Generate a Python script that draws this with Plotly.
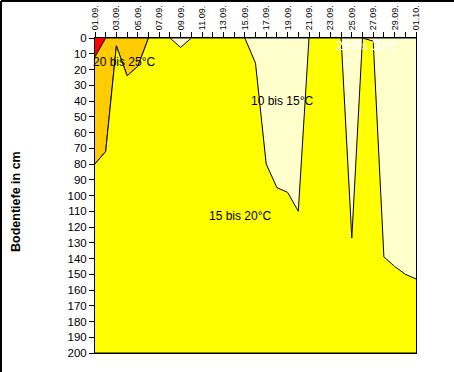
import plotly.graph_objects as go

# Date labels (every day, 01.09. .. 01.10.)
dates = [f"{d:02d}.09." for d in range(1, 31)] + ["01.10."]

# Thickness (cm) of each temperature band, from the surface downwards
band_25_30 = [12, 0, 0, 0, 0, 0, 0, 0, 0, 0, 0, 0, 0, 0, 0, 0,
              0, 0, 0, 0, 0, 0, 0, 0, 0, 0, 0, 0, 0, 0, 0]
band_20_25 = [68, 72, 5, 24, 18, 0, 0, 0, 0, 0, 0, 0, 0, 0, 0, 0,
              0, 0, 0, 0, 0, 0, 0, 0, 0, 0, 0, 0, 0, 0, 0]
band_10_15 = [0, 0, 0, 0, 0, 0, 0, 0, 6, 0, 0, 0, 0, 0, 0, 16,
              80, 95, 98, 110, 0, 0, 0, 0, 127, 0, 2, 139, 145, 150, 153]
max_depth = 200

y_ticks = list(range(0, 201, 10))

x = list(range(len(dates)))
band_15_20 = [max_depth - a - b - c for a, b, c in zip(band_25_30, band_20_25, band_10_15)]

bands = [
    ("25 bis 30°C", band_25_30, "#FF0000"),
    ("20 bis 25°C", band_20_25, "#FFCC00"),
    ("10 bis 15°C", band_10_15, "#FFFFCC"),
    ("15 bis 20°C", band_15_20, "#FFFF00"),
]

fig = go.Figure()
for name, vals, col in bands:
    fig.add_trace(go.Scatter(
        x=x, y=vals, name=name, mode="lines", stackgroup="one",
        line=dict(color="black", width=1), fillcolor=col,
        hoverinfo="skip", showlegend=False,
    ))

font_family = "Liberation Sans, Arial, sans-serif"

fig.update_layout(
    width=454, height=372,
    margin=dict(l=95, r=38, t=38, b=19, autoexpand=False),
    paper_bgcolor="white", plot_bgcolor="white",
    font=dict(family=font_family, color="black"),
    showlegend=False,
)
fig.update_xaxes(
    range=[0, len(dates) - 1], side="top", automargin=False,
    tickmode="array", tickvals=x,
    ticktext=[d if i % 2 == 0 else "" for i, d in enumerate(dates)],
    tickangle=-90, tickfont=dict(size=9, family=font_family),
    ticks="outside", ticklen=5, tickcolor="black",
    showline=True, linecolor="black", linewidth=1, mirror=True,
    showgrid=False, zeroline=False,
)
fig.update_yaxes(
    range=[max_depth, 0], tickmode="array", tickvals=y_ticks, automargin=False,
    tickfont=dict(size=11.5, family=font_family),
    ticks="outside", ticklen=5, tickcolor="black",
    showline=True, linecolor="black", linewidth=1, mirror=True,
    showgrid=False, zeroline=False,
)

labels = [
    ("20 bis 25°C", 2.8, 15, "black"),
    ("10 bis 15°C", 17.5, 40, "black"),
    ("15 bis 20°C", 13.6, 113, "black"),
    ("25 bis 30°C", 25.5, 5, "white"),
]
for txt, lx, ly, col in labels:
    fig.add_annotation(x=lx, y=ly, text=txt, showarrow=False,
                       font=dict(size=12, color=col, family=font_family))

# axis title
fig.add_annotation(xref="paper", yref="paper", x=(16 - 95) / 321, y=(353 - 202) / 315,
                   xanchor="center", yanchor="middle",
                   text="<b>Bodentiefe in cm</b>", textangle=-90, showarrow=False,
                   font=dict(size=12.5, family=font_family, color="black"))

# outer chart border (top and left edges visible)
px0 = (1 - 95) / 321
py0 = (353 - 1) / 315
fig.add_shape(type="line", xref="paper", yref="paper", x0=px0, y0=py0, x1=2, y1=py0,
              line=dict(color="black", width=2))
fig.add_shape(type="line", xref="paper", yref="paper", x0=px0, y0=py0, x1=px0, y1=-1,
              line=dict(color="black", width=2))

fig.write_html(
    "out.html",
    config={"displayModeBar": False, "staticPlot": True},
    post_script="document.body.style.margin='0';document.body.style.overflow='hidden';",
)
